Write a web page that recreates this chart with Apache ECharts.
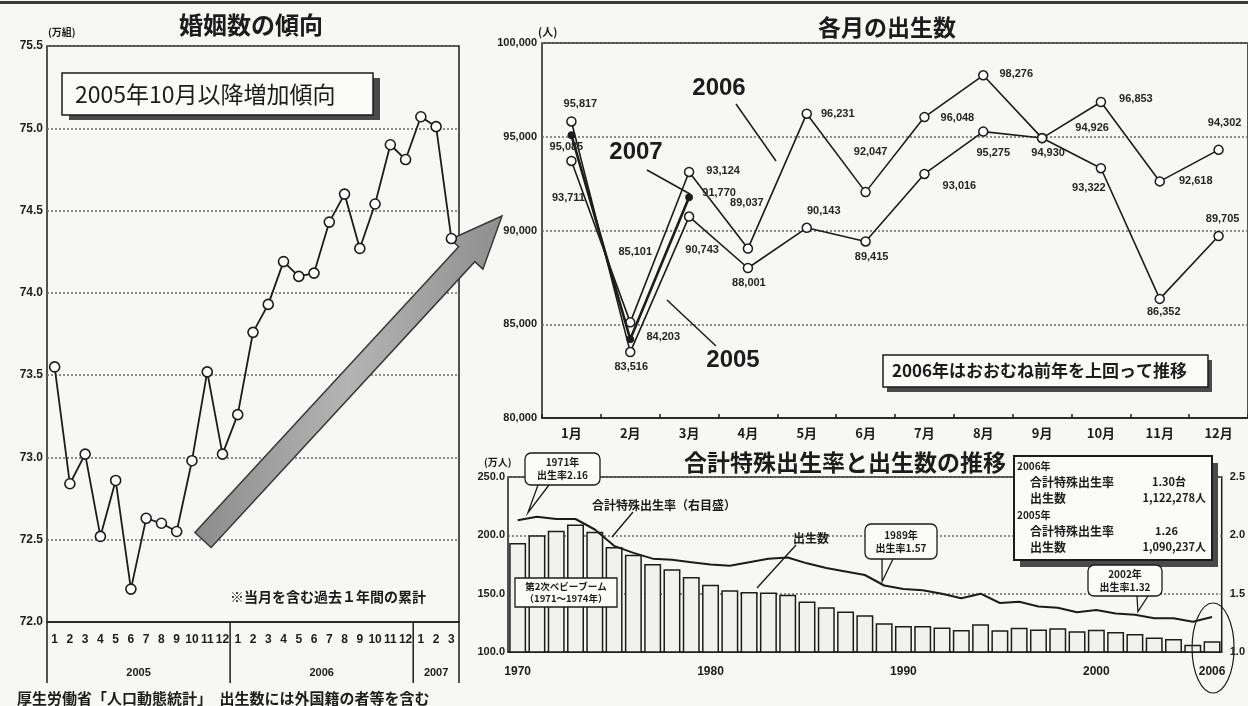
<!DOCTYPE html>
<html>
<head>
<meta charset="utf-8">
<script src="https://cdn.jsdelivr.net/npm/echarts@6/dist/echarts.min.js"></script>
<style>
  html, body { margin: 0; padding: 0; background: #f7f7f5; }
  #c { width: 1248px; height: 706px; }
</style>
</head>
<body>
<div id="c"></div>
<script>
// ---- 婚姻数（当月を含む過去1年間の累計, 万組）----
const marriageMonths = ['1','2','3','4','5','6','7','8','9','10','11','12',
                        '1','2','3','4','5','6','7','8','9','10','11','12',
                        '1','2','3'];
const marriageYears = ['2005', '2006', '2007'];
const marriageCounts = [73.55, 72.84, 73.02, 72.52, 72.86, 72.20, 72.63, 72.60, 72.55, 72.98, 73.52, 73.02,
                        73.26, 73.76, 73.93, 74.19, 74.10, 74.12, 74.43, 74.60, 74.27, 74.54, 74.90, 74.81,
                        75.07, 75.01, 74.33];

// ---- 各月の出生数（人）----
const birthMonths = ['1月','2月','3月','4月','5月','6月','7月','8月','9月','10月','11月','12月'];
const births2005 = [95817, 83516, 90743, 88001, 90143, 89415, 93016, 95275, 94930, 93322, 86352, 89705];
const births2006 = [93711, 85101, 93124, 89037, 96231, 92047, 96048, 98276, 94926, 96853, 92618, 94302];
const births2007 = [95085, 84203, 91770];

// ---- 出生数（万人）と合計特殊出生率 ----
const tfrYears = ['1970','1971','1972','1973','1974','1975','1976','1977','1978','1979',
                  '1980','1981','1982','1983','1984','1985','1986','1987','1988','1989',
                  '1990','1991','1992','1993','1994','1995','1996','1997','1998','1999',
                  '2000','2001','2002','2003','2004','2005','2006'];
const annualBirths = [193.4, 200.1, 203.9, 209.2, 203.0, 190.1, 183.3, 175.5, 170.9, 164.3,
                      157.7, 152.9, 151.5, 150.9, 149.0, 143.2, 138.3, 134.7, 131.4, 124.7,
                      122.2, 122.3, 120.9, 118.8, 123.8, 118.7, 120.7, 119.2, 120.3, 117.8,
                      119.1, 117.1, 115.4, 112.4, 111.1, 106.3, 109.3];
const tfrValues = [2.13, 2.16, 2.14, 2.14, 2.05, 1.91, 1.85, 1.80, 1.79, 1.77,
                   1.75, 1.74, 1.77, 1.80, 1.81, 1.76, 1.72, 1.69, 1.66, 1.57,
                   1.54, 1.53, 1.50, 1.46, 1.50, 1.42, 1.43, 1.39, 1.38, 1.34,
                   1.36, 1.33, 1.32, 1.29, 1.29, 1.26, 1.30];
const yearTicks = ['1970', '1980', '1990', '2000', '2006'];

// label placement (pixel nudges from each point)
const nudge2005 = [[9,-17],[1,15],[13,33],[1,15],[17,-17],[6,15],[35,12],[10,21],[6,15],[-12,20],[4,13],[4,-17]];
const nudge2006 = [[-3,37],[5,-70],[34,-1],[-1,-46],[31,0],[5,-40],[33,1],[33,-1],[50,-10],[35,-3],[36,0],[6,-27]];
const nudge2007 = [[-5,12],[33,-2],[30,-4]];

const CJK = '"Noto Sans CJK JP", "Noto Sans", sans-serif';
const LAT = '"Liberation Sans", Arial, sans-serif';
const INK = '#1c1c1c';
const comma = v => Math.round(v).toLocaleString('en-US');

const chart = echarts.init(document.getElementById('c'), null, { renderer: 'canvas' });

function labelled(values, nudges) {
  return values.map((v, i) => ({ value: v, label: { offset: nudges[i] } }));
}

const dotted = { show: true, lineStyle: { type: [2, 2], color: '#6a6a6a', width: 1.5 } };
const tickText = (size) => ({ fontSize: size, fontWeight: 'bold', color: INK, fontFamily: LAT });

chart.setOption({
  animation: false,
  backgroundColor: '#f7f7f5',
  grid: [
    { left: 47, top: 46, width: 412, height: 576, show: true, borderColor: INK, borderWidth: 1.5 },
    { left: 542, top: 43, width: 708, height: 375, show: true, borderColor: INK, borderWidth: 1.5 },
    { left: 508, top: 477, width: 719, height: 175, show: true, borderColor: INK, borderWidth: 1.5 }
  ],
  xAxis: [
    { type: 'category', gridIndex: 0, data: marriageMonths,
      axisLine: { lineStyle: { color: INK, width: 1.5 } }, axisTick: { show: false },
      axisLabel: Object.assign({ interval: 0, margin: 12 }, tickText(12)) },
    { type: 'category', gridIndex: 1, data: birthMonths,
      axisLine: { lineStyle: { color: INK, width: 1.5 } },
      axisTick: { show: true, inside: true, length: 4, lineStyle: { color: INK, width: 1.5 } },
      axisLabel: { interval: 0, margin: 9, fontSize: 13, fontWeight: 'bold', color: INK, fontFamily: CJK } },
    { type: 'category', gridIndex: 2, data: tfrYears,
      axisLine: { lineStyle: { color: INK, width: 1.5 } }, axisTick: { show: false },
      axisLabel: Object.assign({ margin: 14, interval: (i, v) => yearTicks.includes(v) }, tickText(12)) }
  ],
  yAxis: [
    { type: 'value', gridIndex: 0, min: 72, max: 75.5, interval: 0.5,
      axisLine: { show: false }, axisTick: { show: false }, splitLine: dotted,
      axisLabel: Object.assign({ margin: 4, formatter: v => v.toFixed(1) }, tickText(12)) },
    { type: 'value', gridIndex: 1, min: 80000, max: 100000, interval: 5000,
      axisLine: { show: false }, axisTick: { show: false }, splitLine: dotted,
      axisLabel: Object.assign({ margin: 5, formatter: comma }, tickText(11)) },
    { type: 'value', gridIndex: 2, min: 100, max: 250, interval: 50,
      axisLine: { show: false }, axisTick: { show: false }, splitLine: dotted,
      axisLabel: Object.assign({ margin: 3, formatter: v => v.toFixed(1) }, tickText(11)) },
    { type: 'value', gridIndex: 2, position: 'right', min: 1.0, max: 2.5, interval: 0.5,
      axisLine: { show: false }, axisTick: { show: false }, splitLine: { show: false },
      axisLabel: Object.assign({ margin: 8, formatter: v => v.toFixed(1) }, tickText(11)) }
  ],
  series: [
    { name: '婚姻数', type: 'line', xAxisIndex: 0, yAxisIndex: 0, data: marriageCounts,
      symbol: 'circle', symbolSize: 10,
      itemStyle: { color: '#fff', borderColor: INK, borderWidth: 1.6 },
      lineStyle: { color: INK, width: 1.8 }, z: 5 },
    { name: '2005', type: 'line', xAxisIndex: 1, yAxisIndex: 1, data: labelled(births2005, nudge2005),
      symbol: 'circle', symbolSize: 9,
      itemStyle: { color: '#fff', borderColor: INK, borderWidth: 1.5 },
      lineStyle: { color: INK, width: 1.6 },
      label: { show: true, position: 'inside', formatter: p => comma(p.value), fontSize: 11,
               fontWeight: 'bold', color: '#262626', fontFamily: LAT }, z: 5 },
    { name: '2006', type: 'line', xAxisIndex: 1, yAxisIndex: 1, data: labelled(births2006, nudge2006),
      symbol: 'circle', symbolSize: 9,
      itemStyle: { color: '#fff', borderColor: INK, borderWidth: 1.5 },
      lineStyle: { color: INK, width: 1.6 },
      label: { show: true, position: 'inside', formatter: p => comma(p.value), fontSize: 11,
               fontWeight: 'bold', color: '#262626', fontFamily: LAT }, z: 5 },
    { name: '2007', type: 'line', xAxisIndex: 1, yAxisIndex: 1, data: labelled(births2007, nudge2007),
      symbol: 'circle', symbolSize: 7,
      itemStyle: { color: INK, borderColor: INK, borderWidth: 1 },
      lineStyle: { color: INK, width: 2.6 },
      label: { show: true, position: 'inside', formatter: p => comma(p.value), fontSize: 11,
               fontWeight: 'bold', color: '#262626', fontFamily: LAT }, z: 6 },
    { name: '出生数', type: 'bar', xAxisIndex: 2, yAxisIndex: 2, data: annualBirths,
      barCategoryGap: '12%',
      itemStyle: { color: '#f1f1ef', borderColor: INK, borderWidth: 1.5 }, z: 3 },
    { name: '合計特殊出生率', type: 'line', xAxisIndex: 2, yAxisIndex: 3, data: tfrValues,
      symbol: 'none', lineStyle: { color: INK, width: 2 }, z: 5 }
  ]
});

// ---------- annotations ----------
const g = [];
const px = (xi, yi, x, y) => chart.convertToPixel({ xAxisIndex: xi, yAxisIndex: yi }, [x, y]);

function text(x, y, str, size, o = {}) {
  g.push({ type: 'text', x, y, silent: true, z: o.z || 120,
    style: { text: str, fontSize: size, fontWeight: o.weight || 'bold', fontFamily: o.family || CJK,
             fill: o.fill || INK, textAlign: o.align || 'left', textVerticalAlign: 'middle',
             lineHeight: o.lh || size + 2 } });
}
function line(x1, y1, x2, y2, w = 1.5, z = 115) {
  g.push({ type: 'line', silent: true, z, shape: { x1, y1, x2, y2 }, style: { stroke: INK, lineWidth: w } });
}
function box(x, y, w, h, o = {}) {
  if (o.shadow) {
    g.push({ type: 'rect', silent: true, z: (o.z || 110) - 1,
      shape: { x: x + o.shadow[0], y: y + o.shadow[1], width: w, height: h },
      style: { fill: '#4a4a4a' } });
  }
  g.push({ type: 'rect', silent: true, z: o.z || 110, shape: { x, y, width: w, height: h, r: o.r || 0 },
    style: { fill: o.fill || '#fbfbfa', stroke: INK, lineWidth: o.lw || 1.5 } });
}

// page rule at the top
g.push({ type: 'rect', silent: true, z: 100, shape: { x: 0, y: 1, width: 1248, height: 3 }, style: { fill: '#3a3a3a' } });

// titles and units
text(251, 25, '婚姻数の傾向', 24, { align: 'center' });
text(887, 27, '各月の出生数', 23, { align: 'center' });
text(845, 462, '合計特殊出生率と出生数の推移', 23, { align: 'center' });
text(48, 32, '(万組)', 10);
text(538, 32, '(人)', 11);
text(484, 462, '(万人)', 10);

// left panel: year bands below the month labels
(function () {
  const x0 = px(0, 0, 0, 72)[0];
  const step = px(0, 0, 1, 72)[0] - x0;
  const yAxisPx = px(0, 0, 0, 72)[1];
  const edge = i => x0 + (i - 0.5) * step;
  const starts = [];
  marriageMonths.forEach((m, i) => { if (m === '1') starts.push(i); });
  starts.forEach((s, k) => {
    const e = k + 1 < starts.length ? starts[k + 1] : marriageMonths.length;
    line(edge(s), yAxisPx, edge(s), yAxisPx + 61, 1.5);
    text((edge(s) + edge(e)) / 2, yAxisPx + 51, marriageYears[k], 11, { align: 'center', family: LAT });
  });
  line(edge(marriageMonths.length), yAxisPx, edge(marriageMonths.length), yAxisPx + 61, 1.5);
})();

text(230, 597, '※当月を含む過去１年間の累計', 14);
text(17, 698, '厚生労働省「人口動態統計」　出生数には外国籍の者等を含む', 15);

// left panel: headline box
box(62, 73, 311, 42, { shadow: [7, 5], lw: 1.5 });
text(75, 94, '2005年10月以降増加傾向', 23, { weight: 'normal', z: 121 });

// big trend arrow (kept beneath the plotted points)
(function () {
  const tail = [203, 540], tip = [502, 216];
  const dx = tip[0] - tail[0], dy = tip[1] - tail[1];
  const L = Math.hypot(dx, dy), u = [dx / L, dy / L], n = [-u[1], u[0]];
  const w = 11, H = 52, W = 22;
  const neck = [tip[0] - u[0] * H, tip[1] - u[1] * H];
  const P = (b, s) => [b[0] + n[0] * s, b[1] + n[1] * s];
  g.push({ type: 'polygon', silent: true, z: 4,
    shape: { points: [P(tail, w), P(neck, w), P(neck, W), tip, P(neck, -W), P(neck, -w), P(tail, -w)] },
    style: { fill: new echarts.graphic.LinearGradient(0, 0, 1, 0, [
      { offset: 0, color: '#8c8c8c' }, { offset: 0.5, color: '#b4b4b4' }, { offset: 1, color: '#8f8f8f' }]),
      stroke: '#3a3a3a', lineWidth: 1.5 } });
})();

// monthly births: year call-outs
text(719, 88, '2006', 24, { align: 'center', family: LAT });
line(736, 104, 776, 161);
text(636, 152, '2007', 24, { align: 'center', family: LAT });
line(647, 170, 690, 194);
text(733, 360, '2005', 24, { align: 'center', family: LAT });
line(716, 346, 667, 300);
box(883, 355, 325, 32, { shadow: [4, 5] });
text(892, 371, '2006年はおおむね前年を上回って推移', 17, { z: 121 });

// annual chart notes
function callout(x, y, w, h, lines, tip, baseA, baseB) {
  box(x, y, w, h, { r: 6, lw: 1.3 });
  g.push({ type: 'polyline', silent: true, z: 111,
    shape: { points: [[baseA, y + h], tip, [baseB, y + h]] },
    style: { stroke: INK, lineWidth: 1.3, fill: null } });
  text(x + w / 2, y + h / 2, lines.join('\n'), 10, { align: 'center', z: 121, lh: 13 });
}
(function () {
  const p71 = px(2, 3, '1971', tfrValues[1]);
  callout(525, 453, 75, 32, ['1971年', '出生率2.16'], [p71[0] - 9, p71[1] - 4], 538, 549);
  const p89 = px(2, 3, '1989', tfrValues[19]);
  callout(865, 524, 72, 35, ['1989年', '出生率1.57'], [p89[0] - 2, p89[1] - 4], 882, 893);
  const p02 = px(2, 3, '2002', tfrValues[32]);
  callout(1088, 565, 74, 31, ['2002年', '出生率1.32'], [p02[0] + 3, p02[1] - 3], 1137, 1148);

  text(592, 505, '合計特殊出生率（右目盛）', 12);
  line(633, 512, 612, 537, 1.4);
  text(793, 538, '出生数', 12);
  line(796, 545, 757, 588, 1.4);

  box(515, 578, 102, 29, { lw: 1.3 });
  text(566, 592, '第2次ベビーブーム\n（1971～1974年）', 9.5, { align: 'center', z: 121, lh: 12 });

  // summary table
  box(1014, 456, 198, 104, { shadow: [6, 7], lw: 2 });
  text(1017, 466, '2006年', 10);
  text(1030, 482, '合計特殊出生率', 12);
  text(1186, 482, '1.30台', 11, { align: 'right' });
  text(1030, 498, '出生数', 12);
  text(1206, 498, '1,122,278人', 11, { align: 'right' });
  text(1017, 515, '2005年', 10);
  text(1030, 531, '合計特殊出生率', 12);
  text(1178, 531, '1.26', 11, { align: 'right' });
  text(1030, 547, '出生数', 12);
  text(1206, 547, '1,090,237人', 11, { align: 'right' });

  // ring round the latest year
  const p06 = px(2, 2, '2006', 100);
  g.push({ type: 'ellipse', silent: true, z: 112,
    shape: { cx: p06[0] + 1, cy: p06[1] - 4, rx: 21, ry: 45 },
    style: { fill: null, stroke: INK, lineWidth: 1.2 } });
})();

chart.setOption({ graphic: { elements: g } });
</script>
</body>
</html>
